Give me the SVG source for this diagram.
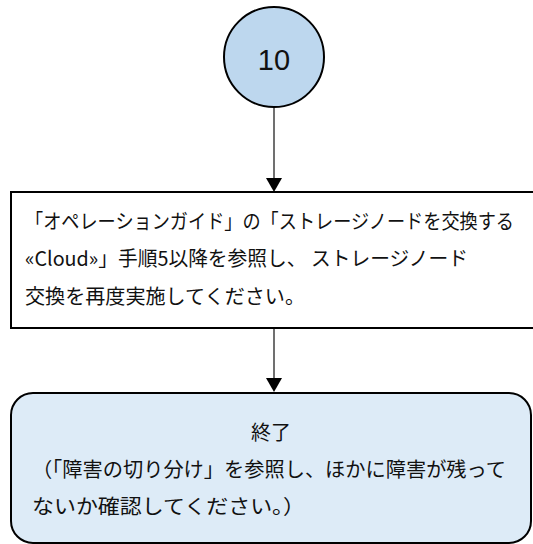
<svg xmlns="http://www.w3.org/2000/svg" width="533" height="544" viewBox="0 0 533 544">
<style>
.shape{stroke:#000;stroke-width:2}
.t{font-family:"Noto Sans CJK JP","Noto Sans",sans-serif;font-size:20px;fill:#111}
.conn{stroke:#404040;stroke-width:1.5;fill:none}
.head{fill:#000}
</style>
<rect width="533" height="544" fill="#fff"/>
<g id="connectors">
<line class="conn" x1="274" y1="107" x2="274" y2="178"/>
<path class="head" d="M266,178 L282,178 L274,192 Z"/>
<line class="conn" x1="274" y1="328" x2="274" y2="378"/>
<path class="head" d="M266,378 L282,378 L274,392 Z"/>
</g>
<g id="node-10">
<circle class="shape" cx="274" cy="57" r="50" fill="#BDD7EE"/>
<text x="274" y="70" text-anchor="middle" style="font-family:'Liberation Sans',Arial,sans-serif;font-size:29px;fill:#111">10</text>
</g>
<g id="node-step">
<rect class="shape" x="11" y="192" width="530" height="136" fill="#fff"/>
<text class="t" transform="translate(25,229) scale(0.908,1)" x="0" y="0">「オペレーションガイド」の「ストレージノードを交換する</text>
<text class="t" x="25" y="266" textLength="443" lengthAdjust="spacingAndGlyphs">«Cloud»」手順5以降を参照し、 ストレージノード</text>
<text class="t" x="25" y="304" textLength="280" lengthAdjust="spacingAndGlyphs">交換を再度実施してください。</text>
</g>
<g id="node-end">
<rect class="shape" x="11" y="393" width="520" height="150" rx="22" ry="22" fill="#DDEBF7"/>
<text class="t" x="271" y="440" text-anchor="middle">終了</text>
<text class="t" x="32" y="477" textLength="474" lengthAdjust="spacingAndGlyphs">（「障害の切り分け」を参照し、ほかに障害が残って</text>
<text class="t" x="32" y="514" textLength="273" lengthAdjust="spacingAndGlyphs">ないか確認してください。）</text>
</g>
</svg>
